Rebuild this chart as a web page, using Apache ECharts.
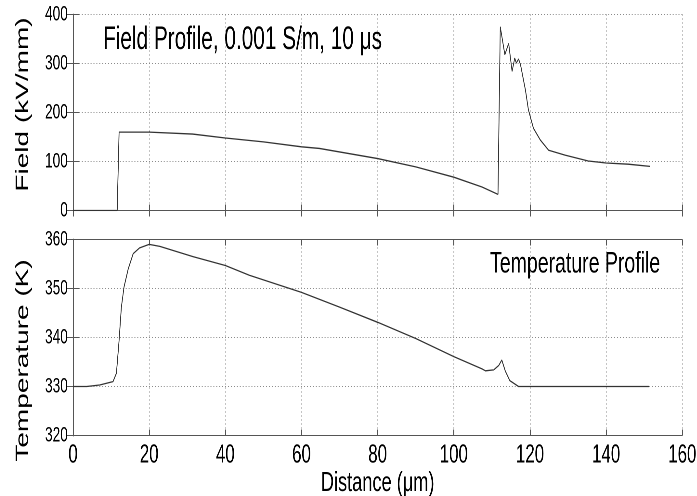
<!DOCTYPE html>
<html>
<head>
<meta charset="utf-8">
<script src="https://cdn.jsdelivr.net/npm/echarts@6/dist/echarts.min.js"></script>
<style>
  html, body { margin: 0; padding: 0; background: #fff; overflow: hidden; }
  /* the original figure is squeezed sideways, so the chart is drawn wider and compressed */
  #chart { width: 1072.3px; height: 496px; transform: scaleX(0.65); transform-origin: 0 0; }
</style>
</head>
<body>
<div id="chart"></div>
<script>
// distance ticks (um)
var distTicks = [0, 20, 40, 60, 80, 100, 120, 140, 160];
var fieldTicks = [0, 100, 200, 300, 400];
var tempTicks = [320, 330, 340, 350, 360];

// field profile (kV/mm)
var fieldX = [0, 11.6, 12.1, 20, 31.4, 40, 50, 60, 64.7, 80, 90, 100, 107.4, 111.6, 111.8,
  112.2, 113.4, 114.4, 115.3, 116, 116.4, 117, 117.5, 118.8, 119.6, 120.9, 122.7, 124.9,
  129.2, 135.3, 140, 145.8, 151.5];
var fieldY = [0, 0, 160, 160, 156, 148, 140, 130, 126.7, 106, 89, 68, 48, 33, 34,
  375, 318, 341, 284, 311, 301, 309, 298, 246, 205, 168, 144, 123,
  113, 101, 97, 94.5, 90];

// temperature profile (K)
var tempX = [0, 3.6, 7, 10.5, 11.4, 12.1, 12.7, 13.4, 14.5, 15.8, 17.5, 20, 22.8, 31.5, 40,
  46.3, 60, 70, 80, 90, 100, 107.4, 108.3, 110.5, 111.8, 112.6, 113.5, 114.7, 117, 151.2];
var tempY = [330, 330, 330.3, 331, 332.7, 339.4, 346.2, 350.3, 354, 357.1, 358.3, 359, 358.6, 356.5, 354.7,
  352.7, 349.2, 346.2, 343.1, 339.8, 336.1, 333.6, 333.2, 333.4, 334.3, 335.4, 333.2, 331.2, 330, 330];

var FONT = "'Liberation Sans', Arial, sans-serif";
var S = 0.65; // horizontal squeeze applied by css

function pairs(xs, ys) {
  return xs.map(function (x, i) { return [x, ys[i]]; });
}

var axisLine = { show: true, lineStyle: { color: '#555', width: 1 } };
var axisLineV = { show: true, lineStyle: { color: '#555', width: 1 / S } };
var hDotted = { color: '#8a8a8a', width: 1, type: [1.5, 3] };
var vDotted = { color: '#8a8a8a', width: 1 / S, type: [1, 3] };

function xAxisFor(gridIndex, showLabels) {
  return {
    type: 'value', gridIndex: gridIndex, min: 0, max: 160, interval: 20,
    axisLine: axisLine,
    axisTick: { show: true, inside: true, length: 6, lineStyle: { color: '#555', width: 1 / S } },
    splitLine: { show: true, lineStyle: vDotted },
    axisLabel: {
      show: showLabels, color: '#000', fontFamily: FONT, fontSize: 26, margin: 7,
      formatter: function (v) { return distTicks.indexOf(v) >= 0 ? String(v) : ''; }
    },
    name: showLabels ? 'Distance (\u03bcm)' : '',
    nameLocation: 'middle', nameGap: 27,
    nameTextStyle: { color: '#000', fontFamily: FONT, fontSize: 28 }
  };
}

function boxX(gridIndex) {
  return {
    type: 'value', gridIndex: gridIndex, min: 0, max: 160, interval: 20, position: 'top',
    axisLine: axisLine,
    axisTick: { show: true, inside: true, length: 6, lineStyle: { color: '#555', width: 1 / S } },
    splitLine: { show: false }, axisLabel: { show: false }
  };
}

function yAxisFor(gridIndex, min, max, interval, ticks, name, namePad) {
  return {
    type: 'value', gridIndex: gridIndex, min: min, max: max, interval: interval,
    axisLine: axisLineV,
    axisTick: { show: true, inside: true, length: 6 / S, lineStyle: { color: '#555' } },
    splitLine: { show: true, lineStyle: hDotted },
    axisLabel: {
      color: '#000', fontFamily: FONT, fontSize: 21, margin: 8,
      formatter: function (v) { return ticks.indexOf(v) >= 0 ? String(v) : ''; }
    },
    name: name, nameLocation: 'middle', nameGap: 63, nameRotate: 90,
    nameTextStyle: { color: '#000', fontFamily: FONT, fontSize: 28, padding: namePad }
  };
}

function boxY(gridIndex, min, max, interval) {
  return {
    type: 'value', gridIndex: gridIndex, min: min, max: max, interval: interval, position: 'right',
    axisLine: axisLineV,
    axisTick: { show: true, inside: true, length: 6 / S, lineStyle: { color: '#555' } },
    splitLine: { show: false }, axisLabel: { show: false }
  };
}

var myChart = echarts.init(document.getElementById('chart'), null, { devicePixelRatio: 2 });

var option = {
  backgroundColor: '#fff',
  animation: false,
  title: [
    {
      text: 'Field Profile, 0.001 S/m, 10 \u03bcs', left: 103 / S, top: 24, padding: 0,
      textStyle: { color: '#000', fontFamily: FONT, fontSize: 32, fontWeight: 'normal' }
    },
    {
      text: 'Temperature Profile', left: 490 / S, top: 249, padding: 0,
      textStyle: { color: '#000', fontFamily: FONT, fontSize: 30, fontWeight: 'normal' }
    }
  ],
  grid: [
    { left: 73 / S, right: 14.5 / S, top: 14.5, height: 196, outerBoundsMode: 'none' },
    { left: 73 / S, right: 14.5 / S, top: 239.5, height: 196, outerBoundsMode: 'none' }
  ],
  xAxis: [xAxisFor(0, false), xAxisFor(1, true), boxX(0), boxX(1)],
  yAxis: [
    yAxisFor(0, 0, 400, 100, fieldTicks, 'Field (kV/mm)', [0, 0, 0, 16]),
    yAxisFor(1, 320, 360, 10, tempTicks, 'Temperature (K)', [0, 46, 0, 0]),
    boxY(0, 0, 400, 100),
    boxY(1, 320, 360, 10)
  ],
  series: [
    {
      name: 'Field', type: 'line', xAxisIndex: 0, yAxisIndex: 0,
      data: pairs(fieldX, fieldY)
    },
    {
      name: 'Temperature', type: 'line', xAxisIndex: 1, yAxisIndex: 1,
      data: pairs(tempX, tempY)
    }
  ].map(function (s) {
    return Object.assign({}, s, {
      showSymbol: false, symbol: 'none', smooth: false,
      lineStyle: { color: '#333', width: 1.3 }
    });
  })
};

myChart.setOption(option);
</script>
</body>
</html>
